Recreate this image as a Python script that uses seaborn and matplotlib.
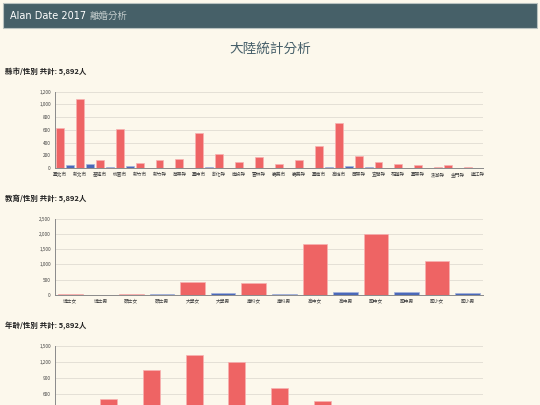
import numpy as np
import pandas as pd
import matplotlib
matplotlib.use("Agg")
import matplotlib.pyplot as plt
from matplotlib.patches import Rectangle
from matplotlib.colors import to_rgb
import seaborn as sns

# 縣市/性別 : 43 bars, label under every other bar
county_labels = ["臺北市", "新北市", "基隆市", "桃園市", "新竹市", "新竹縣", "苗栗縣", "臺中市",
                 "彰化縣", "南投縣", "雲林縣", "嘉義市", "嘉義縣", "臺南市", "高雄市", "屏東縣",
                 "宜蘭縣", "花蓮縣", "臺東縣", "澎湖縣", "金門縣", "連江縣"]
county_vals = [624, 47, 1085, 68, 126, 8, 608, 31, 79, 3, 120, 2, 146, 3, 546, 21,
               225, 6, 94, 3, 173, 4, 63, 2, 131, 3, 346, 16, 703, 37, 193, 10,
               90, 3, 68, 4, 42, 2, 12, 44, 2, 10, 1]
county_sex = ["女", "男"] * 19 + ["女", "女", "男", "女", "男"]

# 教育/性別
edu_labels = ["博士女", "博士男", "碩士女", "碩士男", "大學女", "大學男", "專科女",
              "專科男", "高中女", "高中男", "國中女", "國中男", "國小女", "國小男"]
edu_vals = [10, 3, 25, 15, 429, 56, 376, 20, 1665, 79, 2005, 99, 1100, 56]
edu_sex = ["女", "男"] * 7

# 年齡/性別 (bottom of this chart is below the page edge)
age_labels = ["20歲以下女", "20歲以下男", "20-24歲女", "20-24歲男", "25-29歲女", "25-29歲男",
              "30-34歲女", "30-34歲男", "35-39歲女", "35-39歲男", "40-44歲女", "40-44歲男",
              "45-49歲女", "45-49歲男", "50-54歲女", "50-54歲男", "55-59歲女", "55-59歲男",
              "60歲以上女", "60歲以上男"]
age_vals = [60, 5, 507, 30, 1058, 60, 1324, 50, 1200, 40, 721, 25, 470, 15, 220, 8, 80, 4, 20, 2]
age_sex = ["女", "男"] * 10

sns.set_theme(style="white")
plt.rcParams["font.family"] = ["Noto Sans CJK TC", "DejaVu Sans"]

W, H = 540, 405
BG = "#fcf8ec"
RED = "#ee6464"
BLUE = "#4a68b8"
GRID = "#e4e0d6"
AXC = "#8a8a8a"

fig = plt.figure(figsize=(5.4, 4.05), dpi=100, facecolor=BG)

# header bar
fig.patches.append(Rectangle((3 / W, 1 - 28 / H), 534 / W, 25 / H, transform=fig.transFigure,
                             facecolor="#466068", edgecolor="#b9c2c0", lw=0.8))
fig.text(10 / W, 1 - 16 / H, "Alan Date 2017", color="white", fontsize=7.0, va="center",
         family=["DejaVu Sans"])
fig.text(90 / W, 1 - 16 / H, "離婚分析", color="#c2cbcb", fontsize=6.8, va="center")
fig.text(0.5, 1 - 50 / H, "大陸統計分析", color="#47606a", fontsize=9.8, ha="center", va="center")


def lighter(c, f=0.5):
    r, g, b = to_rgb(c)
    return (r + (1 - r) * f, g + (1 - g) * f, b + (1 - b) * f)


def bar_chart(label_y, top, bottom, keys, vals, sex, ymax, step, ticklabels, title):
    fig.text(5 / W, 1 - label_y / H, title, fontsize=5.4, fontweight="bold", va="center", color="#222222")
    ax = fig.add_axes([55 / W, 1 - bottom / H, 428 / W, (bottom - top) / H])
    ax.set_facecolor(BG)
    df = pd.DataFrame({"key": keys, "n": vals, "sex": sex})
    sns.barplot(data=df, x="key", y="n", hue="sex", order=list(keys),
                palette={"女": RED, "男": BLUE}, dodge=False, width=0.8,
                legend=False, saturation=1, ax=ax)
    for p in ax.patches:
        p.set_edgecolor(lighter(p.get_facecolor()))
        p.set_linewidth(0.5)
    ax.set_ylim(0, ymax)
    yt = np.arange(0, ymax + 1, step)
    ax.set_yticks(yt)
    ax.set_yticklabels([f"{v:,}" for v in yt])
    ax.set_xticks(range(len(keys)))
    if ticklabels is None:
        ax.tick_params(axis="x", labelbottom=False)
    else:
        ax.set_xticklabels(ticklabels)
    ax.set_xlabel("")
    ax.set_ylabel("")
    ax.grid(axis="y", color=GRID, lw=0.7)
    ax.set_axisbelow(True)
    for s in ["top", "right"]:
        ax.spines[s].set_visible(False)
    for s in ["left", "bottom"]:
        ax.spines[s].set_color(AXC)
        ax.spines[s].set_linewidth(0.7)
    ax.tick_params(axis="both", length=2, width=0.5, color=AXC, labelsize=3.4,
                   labelcolor="#444444", pad=1)
    return ax


county_ticks = []
for i in range(len(county_vals)):
    county_ticks.append(county_labels[i // 2] if i % 2 == 0 else "")
county_keys = [f"{i}" for i in range(len(county_vals))]

bar_chart(72, 91.7, 168, county_keys, county_vals, county_sex, 1200, 200, county_ticks,
          "縣市/性別 共計: 5,892人")
bar_chart(199, 219, 294.7, edu_labels, edu_vals, edu_sex, 2500, 500, edu_labels,
          "教育/性別 共計: 5,892人")
# x labels of the age chart fall below the page, so they are not drawn
bar_chart(325, 346, 426, age_labels, age_vals, age_sex, 1500, 300, None,
          "年齡/性別 共計: 5,892人")

fig.savefig("out.png", dpi=100, facecolor=BG)
